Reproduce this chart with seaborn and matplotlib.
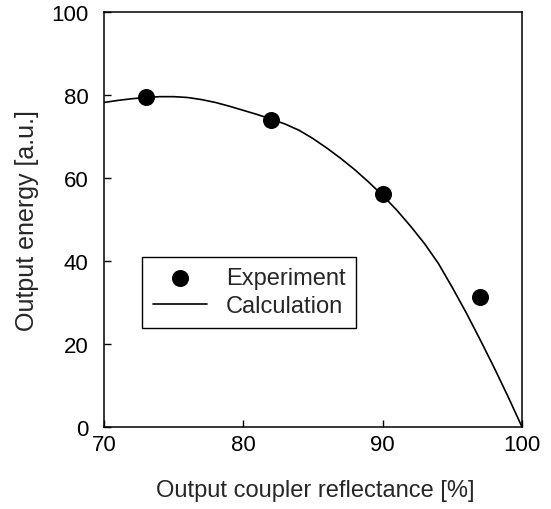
import matplotlib
matplotlib.use("Agg")
import matplotlib.pyplot as plt
import seaborn as sns
import pandas as pd

# Experimental data
exp_reflectance = [73, 82, 90, 97]
exp_energy = [79.5, 74.0, 56.2, 31.3]

# Calculated curve
calc_reflectance = [70, 71, 72, 73, 74, 75, 76, 77, 78, 79, 80, 81, 82, 83, 84, 85, 86, 87,
                    88, 89, 90, 91, 92, 93, 94, 95, 96, 97, 98, 99, 100]
calc_energy = [78.2, 78.7, 79.1, 79.4, 79.6, 79.6, 79.4, 78.9, 78.2, 77.3, 76.3, 75.3, 74.2,
               73.0, 71.5, 69.5, 67.2, 64.7, 62.0, 59.0, 55.8, 52.3, 48.4, 44.2, 39.4,
               33.6, 27.5, 21.0, 14.3, 7.3, 0.0]

x_ticks = [70, 80, 90, 100]
y_ticks = [0, 20, 40, 60, 80, 100]

sns.set_style("ticks")
plt.rcParams['font.family'] = ['Liberation Sans', 'DejaVu Sans']

df_exp = pd.DataFrame({"R": exp_reflectance, "E": exp_energy})
df_calc = pd.DataFrame({"R": calc_reflectance, "E": calc_energy})

fig = plt.figure(figsize=(5.51, 5.10), dpi=100)
ax = fig.add_axes([0.1887, 0.1608, 0.7587, 0.8137])

sns.scatterplot(data=df_exp, x="R", y="E", ax=ax, color="black", s=150,
                edgecolor="black", linewidth=0, label="Experiment", zorder=3)
sns.lineplot(data=df_calc, x="R", y="E", ax=ax, color="black", linewidth=1.2,
             label="Calculation", sort=True, zorder=2)

ax.set_xlim(70, 100)
ax.set_ylim(0, 100)
ax.set_xticks(x_ticks)
ax.set_yticks(y_ticks)
ax.tick_params(direction="in", length=5, width=1, labelsize=16, colors="black")
ax.tick_params(axis="y", pad=11)
ax.tick_params(axis="x", pad=5)
for sp in ax.spines.values():
    sp.set_visible(True)
    sp.set_color("black")
    sp.set_linewidth(1.1)

ax.set_xlabel("Output coupler reflectance [%]", fontsize=17)
ax.set_ylabel("Output energy [a.u.]", fontsize=18)
ax.xaxis.set_label_coords(0.505, -0.125)
ax.yaxis.set_label_coords(-0.155, 0.5)

leg = ax.legend(loc="upper left", bbox_to_anchor=(0.091, 0.41), borderaxespad=0,
                fontsize=17, frameon=True, fancybox=False, edgecolor="black",
                framealpha=1, handlelength=2.3, borderpad=0.45, labelspacing=0.25,
                handletextpad=0.8)
leg.get_frame().set_linewidth(1.0)

fig.savefig("out.png", dpi=100)
